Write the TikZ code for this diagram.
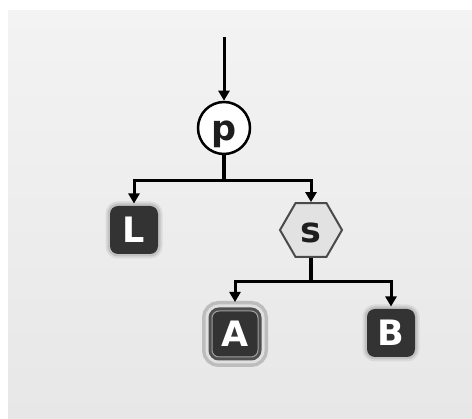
\documentclass[tikz,border=0pt]{standalone}
\usepackage{fontspec}
\setmainfont{DejaVu Sans}
\usetikzlibrary{arrows.meta,shapes.geometric}
\definecolor{bgtop}{HTML}{F3F3F3}
\definecolor{bgbot}{HTML}{E7E7E7}
\definecolor{boxdark}{HTML}{333333}
\definecolor{glowin}{HTML}{C2C2C2}
\definecolor{glowout}{HTML}{DADADA}
\definecolor{hexfill}{HTML}{E2E2E2}
\definecolor{hexline}{HTML}{4A4A4A}
\definecolor{seldark}{HTML}{505050}
\definecolor{selline}{HTML}{A0A0A0}
\definecolor{selband}{HTML}{E0E0E0}
\definecolor{selring}{HTML}{BDBDBD}
\definecolor{txtdark}{HTML}{1E1E1E}
\begin{document}
\begin{tikzpicture}[x=1pt,y=-1pt,
  conn/.style={line width=3pt, black},
  stem/.style={line width=4.5pt, black},
  arr/.style={conn, -{Triangle[width=11pt,length=10pt]}},
  lbl/.style={font=\fontsize{35}{35}\selectfont\bfseries, text height=25.5pt, text depth=0pt, inner sep=0pt},
  leafbox/.style={rectangle, rounded corners=8pt, minimum size=48pt, lbl, text=white,
    preaction={draw=glowout, line width=9pt},
    preaction={draw=glowin, line width=5pt},
    fill=boxdark, outer sep=2.5pt},
  selbox/.style={rectangle, rounded corners=7pt, minimum size=46pt, lbl, text=white,
    preaction={draw=selring, line width=20pt},
    preaction={draw=selband, line width=13pt},
    preaction={draw=seldark, line width=7pt},
    fill=boxdark, draw=selline, line width=1pt, outer sep=9pt},
  hexbox/.style={regular polygon, regular polygon sides=6, minimum size=62pt, lbl,
    fill=hexfill, draw=hexline, line width=2pt, text=txtdark},
  circbox/.style={circle, minimum size=52pt, lbl, fill=white, draw=black,
    line width=2.5pt, text=txtdark}
]
\useasboundingbox (0,0) rectangle (472,419);
\fill[white] (0,0) rectangle (472,419);
\shade[top color=bgtop, bottom color=bgbot] (8,11) rectangle (472,419);

\node[circbox] (p) at (224,128) {p};
\node[leafbox] (L) at (134,230) {L};
\node[hexbox] (s) at (311,230) {s};
\node[selbox] (A) at (235,334) {A};
\node[leafbox] (B) at (391,333) {B};

\coordinate (top) at (224,37);
\coordinate (j1) at (224,181);
\coordinate (j2) at (311,282);

\draw[arr] (top) -- (p);
\draw[arr] (j1) -| (L);
\draw[arr] (j1) -| (s);
\draw[stem] (p) -- (j1);
\draw[arr] (j2) -| (A);
\draw[arr] (j2) -| (B);
\draw[stem] (s) -- (j2);
\end{tikzpicture}
\end{document}
